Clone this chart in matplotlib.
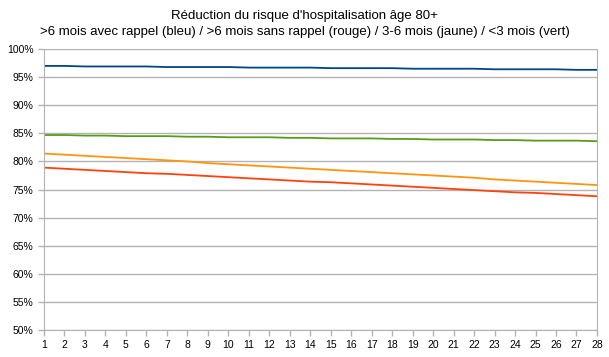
import matplotlib
matplotlib.use("Agg")
import matplotlib.pyplot as plt
from matplotlib.ticker import PercentFormatter

plt.rcParams["font.family"] = ["Liberation Sans", "DejaVu Sans"]

# Données (en %)
jours = list(range(1, 29))

bleu = [97.0, 97.0, 96.9, 96.9, 96.9, 96.9, 96.8, 96.8, 96.8, 96.8,
        96.7, 96.7, 96.7, 96.7, 96.6, 96.6, 96.6, 96.6, 96.5, 96.5,
        96.5, 96.5, 96.4, 96.4, 96.4, 96.4, 96.3, 96.3]
vert = [84.7, 84.7, 84.6, 84.6, 84.5, 84.5, 84.5, 84.4, 84.4, 84.3,
        84.3, 84.3, 84.2, 84.2, 84.1, 84.1, 84.1, 84.0, 84.0, 83.9,
        83.9, 83.9, 83.8, 83.8, 83.7, 83.7, 83.7, 83.6]
jaune = [81.4, 81.2, 81.0, 80.8, 80.6, 80.4, 80.2, 80.0, 79.7, 79.5,
         79.3, 79.1, 78.9, 78.7, 78.5, 78.3, 78.1, 77.9, 77.7, 77.5,
         77.3, 77.1, 76.8, 76.6, 76.4, 76.2, 76.0, 75.8]
rouge = [78.9, 78.7, 78.5, 78.3, 78.1, 77.9, 77.8, 77.6, 77.4, 77.2,
         77.0, 76.8, 76.6, 76.4, 76.3, 76.1, 75.9, 75.7, 75.5, 75.3,
         75.1, 74.9, 74.7, 74.5, 74.4, 74.2, 74.0, 73.8]

fig = plt.figure(figsize=(6.09, 3.57), dpi=100)
ax = fig.add_axes([0.0722, 0.0756, 0.908, 0.787])

ax.plot(jours, bleu, color="#004586", lw=1.3)
ax.plot(jours, rouge, color="#ff420e", lw=1.3)
ax.plot(jours, jaune, color="#ff950e", lw=1.3)
ax.plot(jours, vert, color="#579d1c", lw=1.3)

ax.set_xlim(1, 28)
ax.set_ylim(50, 100)
ax.set_xticks(jours)
ax.set_yticks(range(50, 101, 5))
ax.yaxis.set_major_formatter(PercentFormatter(decimals=0))
ax.grid(True, axis="y", color="#b3b3b3", lw=1)
ax.set_axisbelow(True)
for s in ax.spines.values():
    s.set_color("#b3b3b3")
ax.spines["top"].set_visible(False)
ax.tick_params(colors="#b3b3b3", labelcolor="black", labelsize=7.5, length=4, width=1)

fig.suptitle("Réduction du risque d'hospitalisation âge 80+\n"
             ">6 mois avec rappel (bleu) / >6 mois sans rappel (rouge) / 3-6 mois (jaune) / <3 mois (vert)",
             x=0.5, y=0.972, fontsize=9.5, linespacing=1.5)

fig.savefig("out.png", dpi=100)
